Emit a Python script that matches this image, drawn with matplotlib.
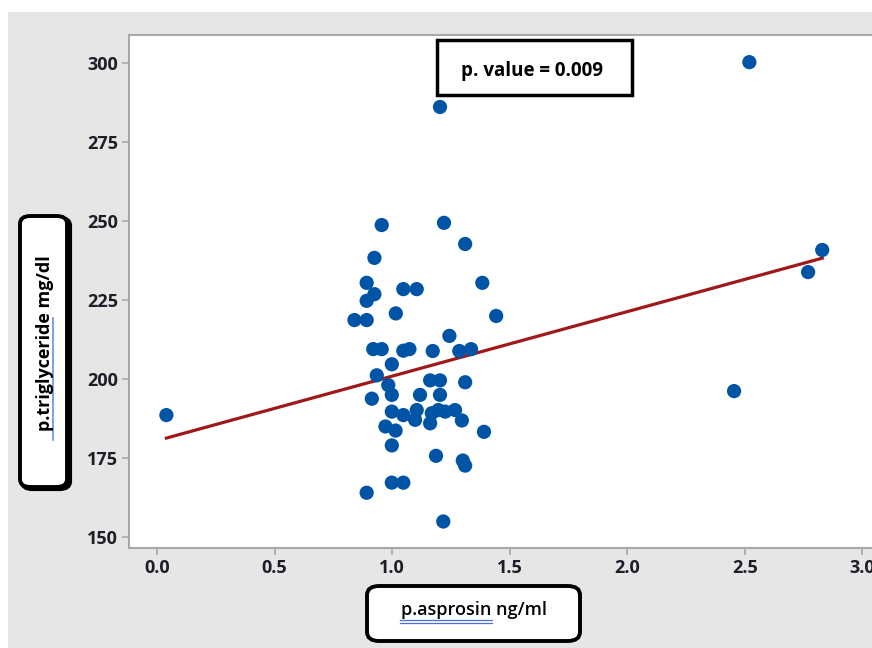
import numpy as np
import matplotlib
matplotlib.use("Agg")
import matplotlib.pyplot as plt
from matplotlib.patches import Rectangle, FancyBboxPatch
from matplotlib.lines import Line2D

plt.rcParams['font.family'] = ['Open Sans', 'DejaVu Sans']

# p.asprosin (ng/ml) vs p.triglyceride (mg/dl)
asprosin = [0.04, 2.52, 2.77, 2.83, 2.455, 1.204, 0.956, 1.221, 1.311, 0.925,
            0.892, 0.925, 0.892, 1.048, 1.105, 1.384, 1.016, 0.840, 0.892, 1.443,
            1.244, 0.920, 0.956, 1.048, 1.074, 1.173, 1.286, 1.336, 0.999, 0.935,
            0.984, 0.999, 1.162, 1.204, 1.311, 0.914, 1.119, 1.204, 0.999, 1.048,
            1.105, 1.098, 1.169, 1.197, 1.226, 1.268, 1.297, 1.162, 0.972, 1.015,
            1.391, 0.999, 1.187, 1.301, 1.311, 0.999, 1.048, 0.892, 1.218]
triglyceride = [188.5, 300.3, 233.8, 240.8, 196.1, 286.1, 248.7, 249.4, 242.7, 238.3,
                230.4, 226.8, 224.7, 228.4, 228.4, 230.4, 220.7, 218.6, 218.6, 219.9,
                213.6, 209.4, 209.4, 208.9, 209.4, 208.8, 208.8, 209.4, 204.6, 201.1,
                198.0, 194.9, 199.5, 199.5, 198.9, 193.7, 194.9, 194.9, 189.6, 188.5,
                190.1, 187.0, 189.1, 190.1, 189.6, 190.1, 186.8, 185.9, 184.9, 183.6,
                183.2, 178.9, 175.6, 174.1, 172.5, 167.1, 167.1, 163.9, 154.8]

# fitted line as drawn
fit_intercept = 180.4
fit_slope = 20.43

xticks = [0.0, 0.5, 1.0, 1.5, 2.0, 2.5, 3.0]
yticks = [150, 175, 200, 225, 250, 275, 300]

W, H = 872, 648
fig = plt.figure(figsize=(W / 100, H / 100), dpi=100)
fig.patch.set_facecolor('white')

def fx(px):
    return px / W

def fy(py):
    return 1 - py / H

# grey backdrop
fig.patches.append(Rectangle((fx(8), 0), 1, fy(12), transform=fig.transFigure,
                             facecolor='#e6e6e6', edgecolor='none', zorder=-5))

ax = fig.add_axes([fx(129), fy(548), fx(881) - fx(129), fy(35) - fy(548)])
ax.set_facecolor('white')
ax.set_xlim(-0.119, 3.08)
ax.set_ylim(146.4, 308.9)

for s in ax.spines.values():
    s.set_color('#a8a8a8')
    s.set_linewidth(1.5)

ax.set_xticks(xticks)
ax.set_xticklabels(['%.1f' % t for t in xticks])
ax.set_yticks(yticks)
ax.tick_params(length=5, width=1.2, color='#a8a8a8', labelsize=13,
               labelcolor='#1e1e28', pad=3)
for lab in ax.get_xticklabels() + ax.get_yticklabels():
    lab.set_fontweight('bold')

ax.scatter(asprosin, triglyceride, s=105, color='#0054a6', edgecolors='none', zorder=3)

xs = np.array([min(asprosin), max(asprosin)])
ax.plot(xs, fit_intercept + fit_slope * xs, color='#a01818', lw=2.3, zorder=2)

# p. value box
fig.patches.append(Rectangle((fx(437), fy(95)), fx(632) - fx(437), fy(40) - fy(95),
                             transform=fig.transFigure, facecolor='white',
                             edgecolor='black', lw=2.5, zorder=5))
fig.text(fx(532), fy(71), 'p. value = 0.009', ha='center', va='center',
         fontsize=13.5, fontweight='bold', zorder=6)

# y label box
fig.patches.append(FancyBboxPatch((fx(22), fy(489)), fx(70) - fx(22), fy(218) - fy(489),
                                  boxstyle='round,pad=0,rounding_size=0.012',
                                  transform=fig.transFigure, facecolor='black',
                                  edgecolor='black', lw=3, zorder=4))
fig.patches.append(FancyBboxPatch((fx(20), fy(487)), fx(67) - fx(20), fy(216) - fy(487),
                                  boxstyle='round,pad=0,rounding_size=0.012',
                                  transform=fig.transFigure, facecolor='white',
                                  edgecolor='black', lw=2.8, zorder=5))
fig.text(fx(45), fy(343), 'p.triglyceride mg/dl', rotation=90, ha='center', va='center',
         fontsize=13, fontweight='bold', zorder=6)
fig.lines.append(Line2D([fx(53), fx(53)], [fy(440), fy(318)], transform=fig.transFigure,
                        color='#6a8fe8', lw=1.2, zorder=6))

# x label box
fig.patches.append(FancyBboxPatch((fx(367), fy(641)), fx(580) - fx(367), fy(586) - fy(641),
                                  boxstyle='round,pad=0,rounding_size=0.014',
                                  transform=fig.transFigure, facecolor='white',
                                  edgecolor='black', lw=2.8, zorder=5))
fig.text(fx(474), fy(610), 'p.asprosin ng/ml', ha='center', va='center',
         fontsize=13, fontweight='semibold', zorder=6)
for yy in (620, 623):
    fig.lines.append(Line2D([fx(400), fx(492)], [fy(yy), fy(yy)], transform=fig.transFigure,
                            color='#4a6fe0', lw=0.9, zorder=6))

fig.savefig('out.png', dpi=100)
